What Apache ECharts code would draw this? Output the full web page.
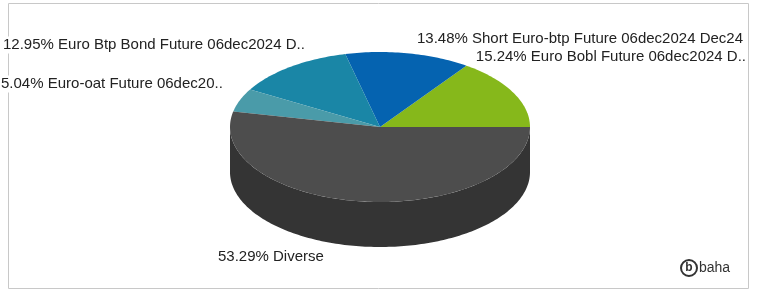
<!DOCTYPE html>
<html>
<head>
<meta charset="utf-8">
<script src="https://cdn.jsdelivr.net/npm/echarts@6/dist/echarts.min.js"></script>
<style>
  html, body { margin: 0; padding: 0; background: #fff; }
  #chart { width: 757px; height: 291px; }
</style>
</head>
<body>
<div id="chart"></div>
<script>
// slice data, counter-clockwise from 3 o'clock
var names = ['Euro Bobl Future 06dec2024 D..', 'Short Euro-btp Future 06dec2024 Dec24', 'Euro Btp Bond Future 06dec2024 D..', 'Euro-oat Future 06dec20..', 'Diverse'];
var shares = [15.24, 13.48, 12.95, 5.04, 53.29];

var colors = ['#86b81b', '#0563b0', '#1a86a6', '#4a9ba9', '#4d4d4d'];
var sideColor = '#343434';

// label anchors: x, y, align
var labelPos = [[747, 57, 'right'], [744, 39, 'right'], [2, 45, 'left'], [0, 84, 'left'], [217, 257, 'left']];

// pie geometry
var cx = 380, cy = 127, rx = 150, ry = 75, depth = 45;

var total = shares.reduce(function (a, b) { return a + b; }, 0);
var acc = 0;
var seriesData = shares.map(function (v) {
    var s = acc / total;
    acc += v;
    return [v, s, acc / total];
});

function pt(t, dy) {
    return [cx + rx * Math.cos(t), cy - ry * Math.sin(t) + (dy || 0)];
}

function arcPoints(t0, t1, dy) {
    var pts = [];
    var n = Math.max(2, Math.ceil((t1 - t0) / 0.02));
    for (var i = 0; i <= n; i++) {
        pts.push(pt(t0 + (t1 - t0) * i / n, dy));
    }
    return pts;
}

function renderSlice(params, api) {
    var i = params.dataIndex;
    var t0 = api.value(1) * Math.PI * 2;
    var t1 = api.value(2) * Math.PI * 2;
    var children = [];

    // front wall (only the part facing the viewer)
    var a = Math.max(t0, Math.PI), b = Math.min(t1, Math.PI * 2);
    if (b > a) {
        var top = arcPoints(a, b, 0);
        var bottom = arcPoints(a, b, depth).reverse();
        children.push({
            type: 'polygon',
            shape: { points: top.concat(bottom) },
            style: { fill: sideColor },
            z2: 1
        });
    }

    children.push({
        type: 'polygon',
        shape: { points: [[cx, cy]].concat(arcPoints(t0, t1, 0)) },
        style: { fill: colors[i] },
        z2: 2
    });

    var lp = labelPos[i];
    children.push({
        type: 'text',
        x: lp[0],
        y: lp[1],
        style: {
            text: api.value(0).toFixed(2) + '% ' + names[i],
            fill: '#222',
            font: '15px "Liberation Sans", Arial, sans-serif',
            align: lp[2],
            verticalAlign: 'middle',
            backgroundColor: '#fff',
            padding: [1, 1]
        },
        z2: 3
    });

    return { type: 'group', children: children };
}

var chart = echarts.init(document.getElementById('chart'));
chart.setOption({
    animation: false,
    graphic: [
        {
            type: 'rect',
            z: 0,
            shape: { x: 8.5, y: 3.5, width: 740, height: 285 },
            style: { fill: 'none', stroke: '#c8c8c8', lineWidth: 1 }
        },
        {
            type: 'circle',
            z: 1,
            shape: { cx: 689, cy: 268, r: 8 },
            style: { fill: '#fff', stroke: '#333', lineWidth: 2 }
        },
        {
            type: 'text',
            z: 1,
            x: 689, y: 268,
            style: { text: 'b', font: 'bold 12px "Liberation Sans", Arial', fill: '#333', align: 'center', verticalAlign: 'middle' }
        },
        {
            type: 'text',
            z: 1,
            x: 699, y: 268,
            style: { text: 'baha', font: '14px "Liberation Sans", Arial', fill: '#333', align: 'left', verticalAlign: 'middle' }
        }
    ],
    series: [{
        type: 'custom',
        coordinateSystem: 'none',
        z: 2,
        renderItem: renderSlice,
        data: seriesData
    }]
});
</script>
</body>
</html>
